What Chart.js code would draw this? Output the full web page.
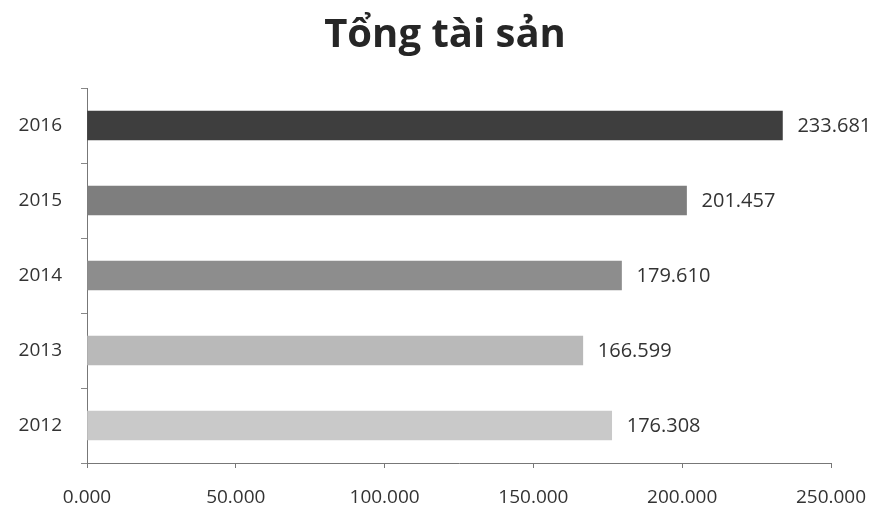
<!DOCTYPE html>
<html>
<head>
<meta charset="utf-8">
<script src="https://cdn.jsdelivr.net/npm/chart.js@4/dist/chart.umd.min.js"></script>
<style>
  html, body { margin: 0; padding: 0; background: #fff; }
  #wrap { width: 878px; height: 511px; }
</style>
</head>
<body>
<div id="wrap"><canvas id="myChart" width="878" height="511"></canvas></div>
<script>
var tieuDe = "Tổng tài sản";
var nam = ["2016", "2015", "2014", "2013", "2012"];
var tongTaiSan = [233.681, 201.457, 179.610, 166.599, 176.308];
var mauCot = ["#3e3e3e", "#7e7e7e", "#8d8d8d", "#b9b9b9", "#c9c9c9"];
var nhanTrucX = ["0.000", "50.000", "100.000", "150.000", "200.000", "250.000"];

// ghi gia tri o cuoi moi cot + tieu de
var ghiGiaTri = {
    id: 'ghiGiaTri',
    afterDatasetsDraw: function(chart) {
        var ctx = chart.ctx;
        var meta = chart.getDatasetMeta(0);
        ctx.save();
        ctx.font = '20px "Open Sans"';
        ctx.fillStyle = '#333';
        ctx.textBaseline = 'middle';
        ctx.textAlign = 'left';
        meta.data.forEach(function(bar, i) {
            ctx.fillText(tongTaiSan[i].toFixed(3), bar.x + 15, bar.y + 1);
        });
        ctx.font = 'bold 40px "Open Sans"';
        ctx.fillStyle = '#262626';
        ctx.textAlign = 'center';
        ctx.textBaseline = 'alphabetic';
        ctx.fillText(tieuDe, 445, 47);
        ctx.restore();
    }
};

var ctx = document.getElementById("myChart");
var myChart = new Chart(ctx, {
    type: 'bar',
    data: {
        labels: nam,
        datasets: [{
            label: 'Tổng tài sản',
            data: tongTaiSan,
            backgroundColor: mauCot,
            barThickness: 29
        }]
    },
    options: {
        indexAxis: 'y',
        responsive: false,
        animation: false,
        layout: { padding: { left: 0, right: 47, top: 88, bottom: 0 } },
        plugins: {
            legend: { display: false },
            tooltip: { enabled: false },
            title: { display: false }
        },
        scales: {
            x: {
                min: 0,
                max: 250,
                afterFit: function(scale) {
                    scale.height = 48;
                    scale.paddingLeft = 0;
                    scale.paddingRight = 0;
                },
                ticks: {
                    stepSize: 50,
                    padding: 18,
                    color: '#333',
                    font: { family: 'Open Sans', size: 19 },
                    callback: function(v, i) { return nhanTrucX[i]; }
                },
                grid: { drawOnChartArea: false, tickLength: 5, color: '#777' },
                border: { color: '#777', dash: [2, 1] }
            },
            y: {
                afterFit: function(scale) { scale.width = 87; },
                ticks: {
                    padding: 19,
                    color: '#333',
                    font: { family: 'Open Sans', size: 19 }
                },
                grid: { drawOnChartArea: false, tickLength: 6, color: '#888' },
                border: { color: '#777' }
            }
        }
    },
    plugins: [ghiGiaTri]
});
</script>
</body>
</html>
